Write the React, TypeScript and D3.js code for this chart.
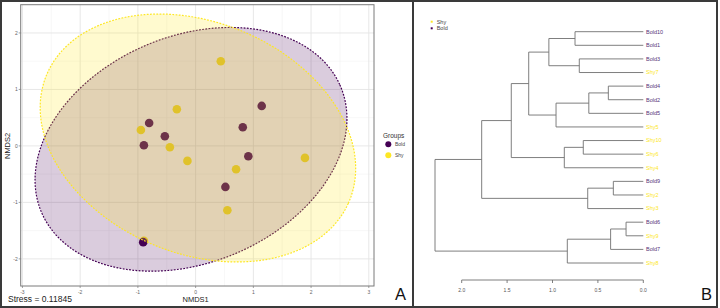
import React from "react";
import * as d3 from "d3";

const W = 720;
const H = 308;

// ---------- Panel A data (NMDS) ----------
const groups = ["Bold", "Shy"];
const groupColors = ["#440154", "#FDE725"];
const boldX = [1.145, -0.805, -0.533, -0.896, 0.817, 0.913, 0.516, -0.908];
const boldY = [0.708, 0.407, 0.172, 0.012, 0.331, -0.182, -0.726, -1.704];
const shyX = [-0.325, -0.948, -0.446, -0.142, 1.894, 0.701, 0.55, 0.436, -0.895];
const shyY = [0.65, 0.283, -0.023, -0.265, -0.212, -0.412, -1.138, 1.499, -1.68];
// ellipse: centre x, centre y, semi-axis a, semi-axis b, angle (deg)
const boldEllipse = [-0.08, -0.06, 2.82, 2.0, 24];
const shyEllipse = [0.04, 0.14, 2.85, 2.04, -24];
const xTicks = [-3, -2, -1, 0, 1, 2, 3];
const yTicks = [-2, -1, 0, 1, 2];
const xMinor = [-2.5, -1.5, -0.5, 0.5, 1.5, 2.5];
const yMinor = [-1.5, -0.5, 0.5, 1.5];
const stress = "0.11845";

// ---------- Panel B data (dendrogram) ----------
const leafNames = [
  "Bold10", "Bold1", "Bold3", "Shy7", "Bold4", "Bold2", "Bold5", "Shy5", "Shy10",
  "Shy6", "Shy4", "Bold9", "Shy2", "Shy3", "Bold6", "Shy9", "Bold7", "Shy8",
];
// [left, right, height]; "mN" refers to merge N
const merges: [string, string, number][] = [
  ["Bold6", "Shy9", 0.19],
  ["Bold9", "Shy2", 0.33],
  ["m0", "Bold7", 0.36],
  ["Bold4", "Bold2", 0.385],
  ["m3", "Bold5", 0.6],
  ["m1", "Shy3", 0.612],
  ["Shy10", "Shy6", 0.661],
  ["Bold3", "Shy7", 0.705],
  ["Bold10", "Bold1", 0.752],
  ["m2", "Shy8", 0.837],
  ["m6", "Shy4", 0.87],
  ["m4", "Shy5", 0.961],
  ["m8", "m7", 1.04],
  ["m12", "m11", 1.262],
  ["m13", "m10", 1.454],
  ["m14", "m5", 1.78],
  ["m15", "m9", 2.294],
];
const heightTicks = [2.0, 1.5, 1.0, 0.5, 0.0];

const FONT = "'Liberation Sans', Arial, sans-serif";

function ellipsePath(p: number[], xs: any, ys: any) {
  const [cx, cy, a, b, deg] = p;
  const th = (deg * Math.PI) / 180;
  const pts: [number, number][] = d3.range(0, 201).map((i) => {
    const t = (i / 200) * 2 * Math.PI;
    const dx = a * Math.cos(t);
    const dy = b * Math.sin(t);
    const X = cx + dx * Math.cos(th) - dy * Math.sin(th);
    const Y = cy + dx * Math.sin(th) + dy * Math.cos(th);
    return [xs(X), ys(Y)];
  });
  return d3.line().curve(d3.curveLinearClosed)(pts) as string;
}

function PanelA() {
  const x = d3.scaleLinear().domain([-3.03, 3.09]).range([20.7, 374]);
  const y = d3.scaleLinear().domain([-2.48, 2.5]).range([286, 4.7]);
  const [x0, x1] = x.range();
  const [y0, y1] = y.range();
  return (
    <g>
      <rect x={x0} y={y1} width={x1 - x0} height={y0 - y1} fill="#ffffff" />
      {xMinor.map((v) => (
        <line key={"xm" + v} x1={x(v)} x2={x(v)} y1={y1} y2={y0} stroke="#f2f2f2" strokeWidth={0.6} />
      ))}
      {yMinor.map((v) => (
        <line key={"ym" + v} y1={y(v)} y2={y(v)} x1={x0} x2={x1} stroke="#f2f2f2" strokeWidth={0.6} />
      ))}
      {xTicks.map((v) => (
        <line key={"xg" + v} x1={x(v)} x2={x(v)} y1={y1} y2={y0} stroke="#e4e4e4" strokeWidth={0.9} />
      ))}
      {yTicks.map((v) => (
        <line key={"yg" + v} y1={y(v)} y2={y(v)} x1={x0} x2={x1} stroke="#e4e4e4" strokeWidth={0.9} />
      ))}
      {shyX.map((v, i) => (
        <circle key={"s" + i} cx={x(v)} cy={y(shyY[i])} r={4.3} fill={groupColors[1]} />
      ))}
      {boldX.map((v, i) => (
        <circle key={"b" + i} cx={x(v)} cy={y(boldY[i])} r={4.3} fill={groupColors[0]} />
      ))}
      <path d={ellipsePath(boldEllipse, x, y)} fill={groupColors[0]} fillOpacity={0.2}
        stroke={groupColors[0]} strokeWidth={1.2} strokeDasharray="1.8,1.4" />
      <path d={ellipsePath(shyEllipse, x, y)} fill={groupColors[1]} fillOpacity={0.22}
        stroke={groupColors[1]} strokeWidth={1.2} strokeDasharray="1.8,1.4" />
      <rect x={x0} y={y1} width={x1 - x0} height={y0 - y1} fill="none" stroke="#7a7a7a" strokeWidth={1} />
      {xTicks.map((v) => (
        <g key={"xt" + v}>
          <line x1={x(v)} x2={x(v)} y1={y0} y2={y0 + 2} stroke="#7a7a7a" strokeWidth={0.7} />
          <text x={x(v)} y={293.5} fontSize={5} fill="#666" textAnchor="middle" fontFamily={FONT}>
            {v < 0 ? "-" + Math.abs(v) : String(v)}
          </text>
        </g>
      ))}
      {yTicks.map((v) => (
        <g key={"yt" + v}>
          <line x1={x0 - 2} x2={x0} y1={y(v)} y2={y(v)} stroke="#7a7a7a" strokeWidth={0.7} />
          <text x={17.8} y={y(v) + 1.8} fontSize={5} fill="#666" textAnchor="end" fontFamily={FONT}>
            {v < 0 ? "-" + Math.abs(v) : String(v)}
          </text>
        </g>
      ))}
      <text x={8} y={301.5} fontSize={8.5} fill="#222" fontFamily={FONT}>
        {"Stress = " + stress}
      </text>
      <text x={x(0)} y={301.5} fontSize={7.5} fill="#222" textAnchor="middle" fontFamily={FONT}>
        NMDS1
      </text>
      <text transform={`translate(10,${y(0)}) rotate(-90)`} fontSize={7.5} fill="#222" textAnchor="middle" fontFamily={FONT}>
        NMDS2
      </text>
      <text x={383} y={137.5} fontSize={6.5} fill="#333" fontFamily={FONT}>Groups</text>
      {groups.map((g, i) => (
        <g key={g}>
          <circle cx={388.3} cy={144.3 + i * 11} r={3} fill={groupColors[i]} />
          <text x={395} y={146 + i * 11} fontSize={5} fill="#444" fontFamily={FONT}>{g}</text>
        </g>
      ))}
      <text x={395} y={300} fontSize={16.5} fill="#111" fontFamily={FONT}>A</text>
    </g>
  );
}

function PanelB() {
  const x = d3.scaleLinear().domain([0, 2]).range([643.3, 461.7]);
  const yl = d3.scaleLinear().domain([0, leafNames.length - 1]).range([31.7, 263]);
  const pos: Record<string, { y: number; h: number }> = {};
  leafNames.forEach((n, i) => (pos[n] = { y: yl(i), h: 0 }));
  const segs: { x1: number; y1: number; x2: number; y2: number }[] = [];
  merges.forEach(([a, b, h], i) => {
    const pa = pos[a];
    const pb = pos[b];
    segs.push({ x1: x(h), y1: pa.y, x2: x(h), y2: pb.y });
    segs.push({ x1: x(h), y1: pa.y, x2: x(pa.h), y2: pa.y });
    segs.push({ x1: x(h), y1: pb.y, x2: x(pb.h), y2: pb.y });
    pos["m" + i] = { y: (pa.y + pb.y) / 2, h };
  });
  const colorOf = (n: string) => (n.startsWith("Bold") ? "#553377" : groupColors[1]);
  const axisY = 280;
  return (
    <g>
      {segs.map((s, i) => (
        <line key={i} x1={s.x1} y1={s.y1} x2={s.x2} y2={s.y2} stroke="#707070" strokeWidth={0.9} />
      ))}
      {leafNames.map((n, i) => (
        <text key={n} x={646} y={yl(i) + 1.9} fontSize={5.5} fill={colorOf(n)} fontFamily={FONT}>{n}</text>
      ))}
      <line x1={x(2)} x2={x(0)} y1={axisY} y2={axisY} stroke="#707070" strokeWidth={0.9} />
      {heightTicks.map((t) => (
        <g key={t}>
          <line x1={x(t)} x2={x(t)} y1={axisY} y2={axisY + 3} stroke="#707070" strokeWidth={0.9} />
          <text x={x(t)} y={292.3} fontSize={5} fill="#555" textAnchor="middle" fontFamily={FONT}>
            {t.toFixed(1)}
          </text>
        </g>
      ))}
      {["Shy", "Bold"].map((g, i) => (
        <g key={g}>
          <rect x={430.7} y={20.7 + i * 6.6} width={2} height={2} fill={g === "Bold" ? groupColors[0] : groupColors[1]} />
          <text x={436.7} y={23.6 + i * 6.6} fontSize={5.5} fill="#444" fontFamily={FONT}>{g}</text>
        </g>
      ))}
      <text x={701} y={300} fontSize={16.5} fill="#111" fontFamily={FONT}>B</text>
    </g>
  );
}

export default function App() {
  return (
    <svg width={W} height={H} style={{ position: "absolute", left: 0, top: 0, background: "#fff" }}>
      <rect x={0} y={0} width={W} height={H} fill="#fff" />
      <PanelA />
      <PanelB />
      <line x1={413} x2={413} y1={0} y2={H} stroke="#3a3a3a" strokeWidth={2} />
      <rect x={1} y={1} width={716} height={306} fill="none" stroke="#3a3a3a" strokeWidth={2} />
    </svg>
  );
}
